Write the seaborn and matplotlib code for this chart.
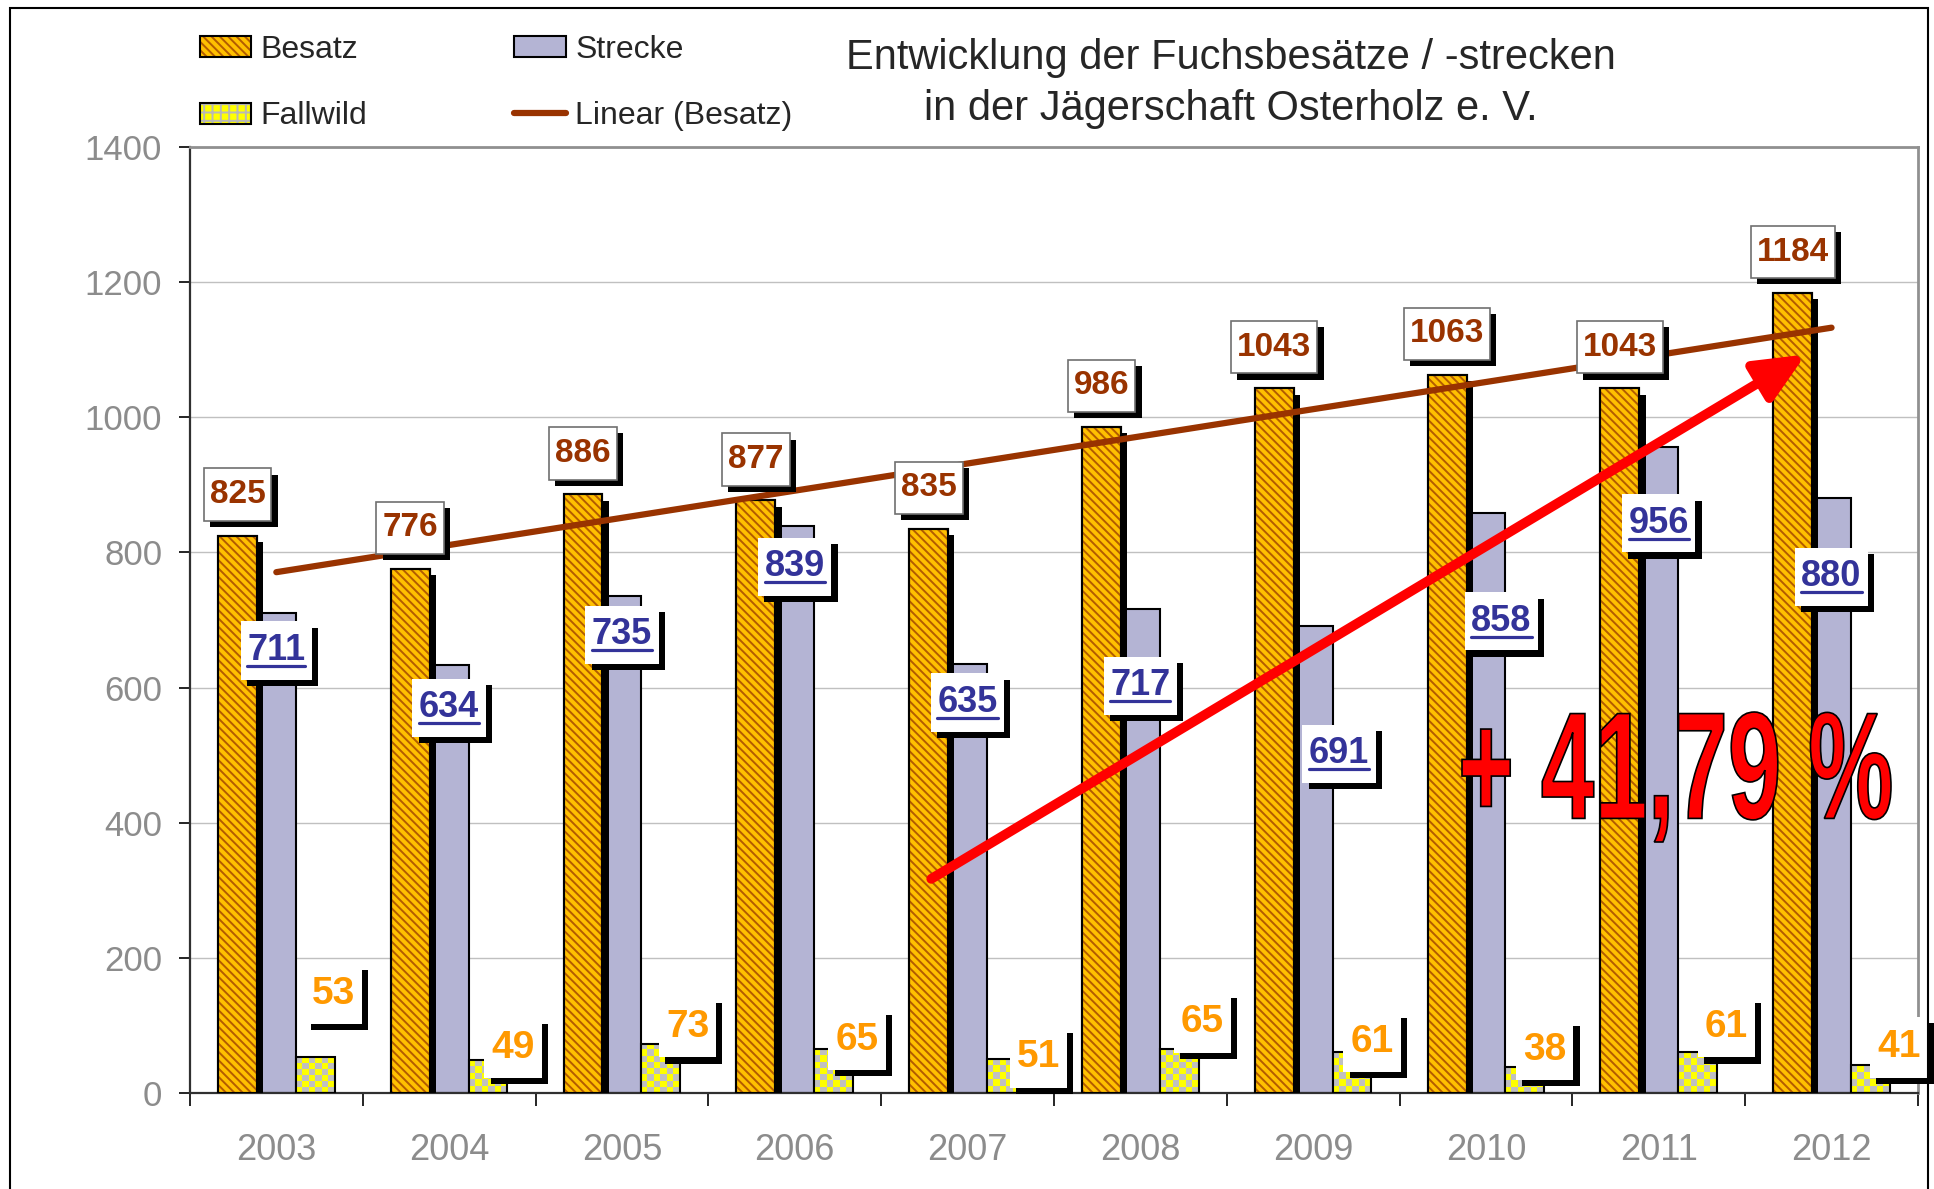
import numpy as np
import pandas as pd
import matplotlib
matplotlib.use('Agg')
import matplotlib.pyplot as plt
import seaborn as sns
import matplotlib.patheffects as pe
from matplotlib.patches import Patch, Rectangle, PathPatch
from matplotlib.lines import Line2D
from matplotlib.path import Path
from matplotlib.textpath import TextPath
from matplotlib.font_manager import FontProperties
from matplotlib.transforms import Affine2D, IdentityTransform
from matplotlib.colors import ListedColormap

# data
years = ['2003', '2004', '2005', '2006', '2007', '2008', '2009', '2010', '2011', '2012']
besatz = [825, 776, 886, 877, 835, 986, 1043, 1063, 1043, 1184]
strecke = [711, 634, 735, 839, 635, 717, 691, 858, 956, 880]
fallwild = [53, 49, 73, 65, 51, 65, 61, 38, 61, 41]
series = ['Besatz', 'Strecke', 'Fallwild']

# where the value labels sit (manually placed in the original)
strecke_label_y = [655, 570, 678, 779, 578, 603, 502, 698, 843, 764]
strecke_label_dx = [0, 0, 0, 0, 0, 0, 0.15, 0.09, 0, 0]
fall_label_y = [147, 67, 98, 79, 53, 105, 76, 64, 98, 68]
fall_label_dx = [0.33, 0.37, 0.38, 0.36, 0.41, 0.36, 0.34, 0.34, 0.39, 0.39]

gold = '#FFC000'
stripe = '#B35C00'
lilac = '#B4B4D4'
brown = '#993300'
blue = '#333399'
orange = '#FF9900'

sns.set_style('white')
plt.rcParams['font.family'] = ['Liberation Sans', 'DejaVu Sans']
plt.rcParams['hatch.linewidth'] = 1.4

fig = plt.figure(figsize=(19.34, 11.89), dpi=100)
ax = fig.add_axes([0.0982, 0.0807, 0.8935, 0.7956])

df = pd.DataFrame({'Jahr': years * 3,
                   'Anzahl': besatz + strecke + fallwild,
                   'Art': ['Besatz'] * 10 + ['Strecke'] * 10 + ['Fallwild'] * 10})

sns.barplot(data=df, x='Jahr', y='Anzahl', hue='Art', hue_order=series,
            palette={'Besatz': gold, 'Strecke': lilac, 'Fallwild': 'yellow'},
            width=0.675, saturation=1, errorbar=None, legend=False, ax=ax,
            edgecolor='black', linewidth=1.5)

ax.set_xlim(-0.5, 9.5)
ax.set_ylim(0, 1400)

shadow = [pe.SimplePatchShadow(offset=(4.5, -4.5), shadow_rgbFace='black', alpha=1.0), pe.Normal()]

# Besatz: gold with brown stripes, black drop shadow
for p in ax.containers[0]:
    p.set_zorder(3)
    p.set_path_effects(shadow)
    ax.add_patch(Rectangle((p.get_x(), p.get_y()), p.get_width(), p.get_height(),
                           fc='none', ec=stripe, lw=0, hatch='\\\\\\\\', zorder=3.1))
    ax.add_patch(Rectangle((p.get_x(), p.get_y()), p.get_width(), p.get_height(),
                           fill=False, ec='black', lw=1.5, zorder=3.2))

for p in ax.containers[1]:
    p.set_zorder(2)

# Fallwild: yellow / grey checkerboard
py_unit = ax.transData.transform((0, 1))[1] - ax.transData.transform((0, 0))[1]
px_unit = ax.transData.transform((1, 0))[0] - ax.transData.transform((0, 0))[0]
checker_cmap = ListedColormap(['#FFFF00', '#C0C0C0'])
for p in ax.containers[2]:
    x0, w, h = p.get_x(), p.get_width(), p.get_height()
    cols = max(1, int(round(w * px_unit / 6.5)))
    rows = max(1, int(round(h * py_unit / 6.5)))
    cells = np.add.outer(np.arange(rows), np.arange(cols)) % 2
    ax.imshow(cells, cmap=checker_cmap, extent=(x0, x0 + w, 0, h), origin='lower',
              aspect='auto', interpolation='nearest', zorder=2.5)
    p.set_facecolor('none')
    p.set_zorder(2.6)

# linear trend of Besatz
sns.regplot(x=np.arange(len(years)), y=np.array(besatz), scatter=False, ci=None,
            truncate=True, color=brown, ax=ax,
            line_kws=dict(lw=4.5, zorder=4, solid_capstyle='round'))

# red arrow
ax.annotate('', xy=(8.85, 1093), xytext=(3.79, 317),
            arrowprops=dict(arrowstyle='-|>,head_length=1.0,head_width=0.45', color='#FF0000',
                            lw=7, shrinkA=0, shrinkB=0, mutation_scale=30), zorder=5)


def label_box(x0, y0, width, height, mutation_size):
    px = 0.18 * mutation_size
    py = 0.32 * mutation_size
    return Path([(x0 - px, y0 - py), (x0 + width + px, y0 - py),
                 (x0 + width + px, y0 + height + py), (x0 - px, y0 + height + py),
                 (x0 - px, y0 - py)], closed=True)


for p, v in zip(ax.containers[0], besatz):
    ax.annotate(str(v), xy=(p.get_x() + p.get_width() / 2, v), xytext=(0, 29.5),
                textcoords='offset points', ha='center', va='center',
                fontsize=24, fontweight='bold', color=brown, zorder=6,
                bbox=dict(boxstyle=label_box, fc='white', ec='#707070', lw=1.2,
                          path_effects=shadow))

strecke_texts = []
for p, v, ly, dx in zip(ax.containers[1], strecke, strecke_label_y, strecke_label_dx):
    t = ax.text(p.get_x() + p.get_width() / 2 + dx, ly, str(v), ha='center', va='center',
                fontsize=26, fontweight='bold', color=blue, zorder=6,
                bbox=dict(boxstyle=label_box, fc='white', ec='none', path_effects=shadow))
    strecke_texts.append(t)

for i, (v, ly, dx) in enumerate(zip(fallwild, fall_label_y, fall_label_dx)):
    ax.text(i + dx, ly, str(v), ha='center', va='center',
            fontsize=28, fontweight='bold', color=orange, zorder=6,
            bbox=dict(boxstyle=label_box, fc='white', ec='none', path_effects=shadow))

# axes styling
ax.set_xlabel('')
ax.set_ylabel('')
ax.set_yticks(range(0, 1401, 200))
ax.set_xticks(range(len(years)))
ax.set_xticklabels(years)
ax.set_xticks(np.arange(-0.5, 10, 1), minor=True)
ax.tick_params(axis='y', left=True, length=8, width=1.2, color='black',
               labelsize=25, labelcolor='#8C8C8C', pad=12)
ax.tick_params(axis='x', which='major', bottom=True, length=0, labelsize=26,
               labelcolor='#8C8C8C', pad=29)
ax.tick_params(axis='x', which='minor', bottom=True, length=9, width=1.2, color='black')
ax.grid(axis='y', color='#C0C0C0', lw=1)
ax.set_axisbelow(True)
for side in ['left', 'bottom']:
    ax.spines[side].set_color('#303030')
    ax.spines[side].set_linewidth(1.6)
for side in ['top', 'right']:
    ax.spines[side].set_color('#909090')
    ax.spines[side].set_linewidth(2)
ax.set_xlim(-0.5, 9.5)
ax.set_ylim(0, 1400)

# legend
h_besatz = (Patch(fc=gold, ec='none'), Patch(fc='none', ec=stripe, lw=0, hatch='\\\\\\\\'),
            Patch(fill=False, ec='black', lw=1.5))
h_strecke = Patch(fc=lilac, ec='black', lw=1.5)
h_fall = (Patch(fc='#FFFF00', ec='none'), Patch(fc='none', ec='#B8B8B8', lw=0, hatch='++'),
          Patch(fill=False, ec='black', lw=1.5))
h_lin = Line2D([], [], color=brown, lw=4.5, solid_capstyle='round')
fig.legend([h_besatz, h_fall, h_strecke, h_lin],
           ['Besatz', 'Fallwild', 'Strecke', 'Linear (Besatz)'],
           loc='upper left', bbox_to_anchor=(200 / 1934, 1 - 35 / 1189), ncol=2,
           frameon=False, fontsize=23, handlelength=1.6, handleheight=0.65,
           handletextpad=0.3, columnspacing=4.6, labelspacing=1.14,
           borderpad=0, borderaxespad=0)

fig.text(0.6365, 0.968, 'Entwicklung der Fuchsbesätze / -strecken\nin der Jägerschaft Osterholz e. V.',
         ha='center', va='top', fontsize=30, linespacing=1.35, multialignment='center')

# big red percentage
tp = TextPath((0, 0), '+ 41,79 %', size=100, prop=FontProperties(family='Liberation Sans', weight='bold'))
bb = tp.get_extents()
tr = Affine2D().translate(-bb.x0, -bb.y0).scale(429 / bb.width, 130 / bb.height).translate(1462, 347)
fig.add_artist(PathPatch(tp, transform=tr, fc='#FF0000', ec='black', lw=1.2, zorder=7))

# outer chart frame
fig.add_artist(Rectangle((10 / 1934, -0.05), 1918 / 1934, 1.05 - 8 / 1189, transform=fig.transFigure,
                         fill=False, ec='black', lw=1.5, clip_on=False))

# underline the Strecke numbers
fig.canvas.draw()
for t in strecke_texts:
    tb = t.get_window_extent()
    fig.add_artist(Line2D([tb.x0, tb.x1], [tb.y0 + 2, tb.y0 + 2], color=blue, lw=2.3,
                          transform=IdentityTransform(), zorder=8))

fig.savefig('out.png', dpi=100)
